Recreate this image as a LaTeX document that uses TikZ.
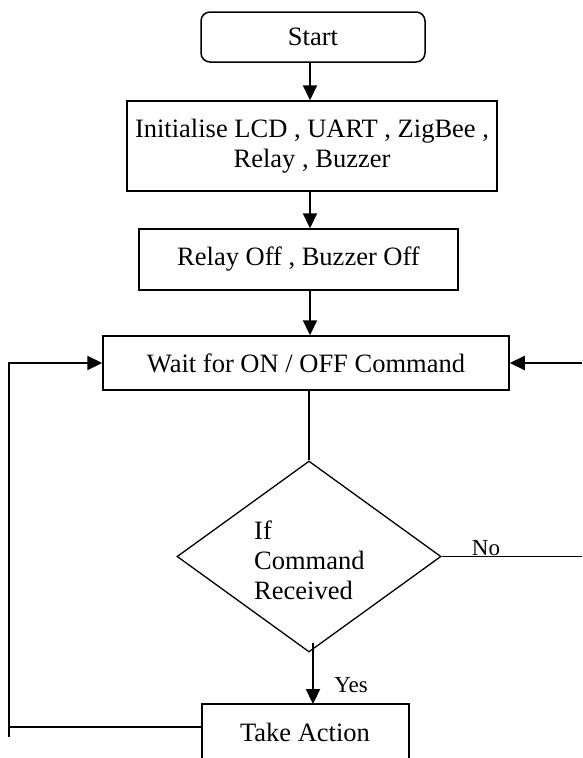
\documentclass[tikz,border=0pt]{standalone}
\usepackage{fontspec}
\setmainfont{Liberation Serif}
\usetikzlibrary{arrows.meta,shapes.geometric}
\begin{document}
\begin{tikzpicture}[x=1pt,y=-1pt,
  txt/.style={font=\fontsize{26.5}{30}\selectfont, inner sep=0pt, align=center},
  small/.style={font=\fontsize{23}{26}\selectfont, inner sep=0pt},
  box/.style={txt, draw, line width=1.5pt},
  flow/.style={line width=2.2pt, -{Triangle[length=15pt,width=14pt]}},
  plain/.style={line width=1.8pt}]
\useasboundingbox (0,0) rectangle (582,758);
\clip (0,0) rectangle (582,758);
\node[box, rounded corners=9pt, minimum width=224, minimum height=50] (start) at (313,37) {Start};
\node[box, minimum width=370, minimum height=90] (init) at (312,146) {Initialise LCD , UART , ZigBee ,\\ Relay , Buzzer};
\node[box, minimum width=319, minimum height=61] (off) at (298.5,259.5) {Relay Off , Buzzer Off};
\node[box, minimum width=406, minimum height=54] (wait) at (306,363) {Wait for ON / OFF Command};
\node[draw, diamond, line width=1.3pt, inner sep=0pt, aspect=1.39, minimum width=264, minimum height=191] (dec) at (309,556.5) {};
\node[txt, align=left, anchor=west] (dectxt) at (254,560) {If\\ Command\\ Received};
\node[txt] (act) at (305,732) {Take Action};
\coordinate (actTL) at (202,704);
\coordinate (actTR) at (409,704);
\coordinate (actL) at (202,727);
\draw[line width=1.5pt] (202,770) -- (actTL) -- (actTR) -- (409,770);
\node[small] (no) at (486,548) {No};
\node[small] (yes) at (351,685) {Yes};
\coordinate (leftbot) at (9,737);
\coordinate (leftcorner) at (9,363);
\coordinate (rightin) at (582,363);
\coordinate (rightno) at (582,556.5);
\draw[flow] (start.south -| 310,0) -- (init.north -| 310,0);
\draw[flow] (init.south -| 310,0) -- (off.north -| 310,0);
\draw[flow] (off.south -| 310,0) -- (wait.north -| 310,0);
\draw[plain, line width=1.4pt] (wait.south -| dec.north) -- (dec.north);
\draw[plain, line width=1.4pt] (dec.east) -- (rightno);
\draw[flow] (rightin) -- (wait.east |- rightin);
\draw[flow] ([yshift=10pt]dec.south -| 313,0) -- (actTL -| 313,0);
\draw[plain] (actL) -- (actL -| leftbot);
\draw[flow] (leftbot) -- (leftcorner) -- (wait.west |- leftcorner);
\end{tikzpicture}
\end{document}
